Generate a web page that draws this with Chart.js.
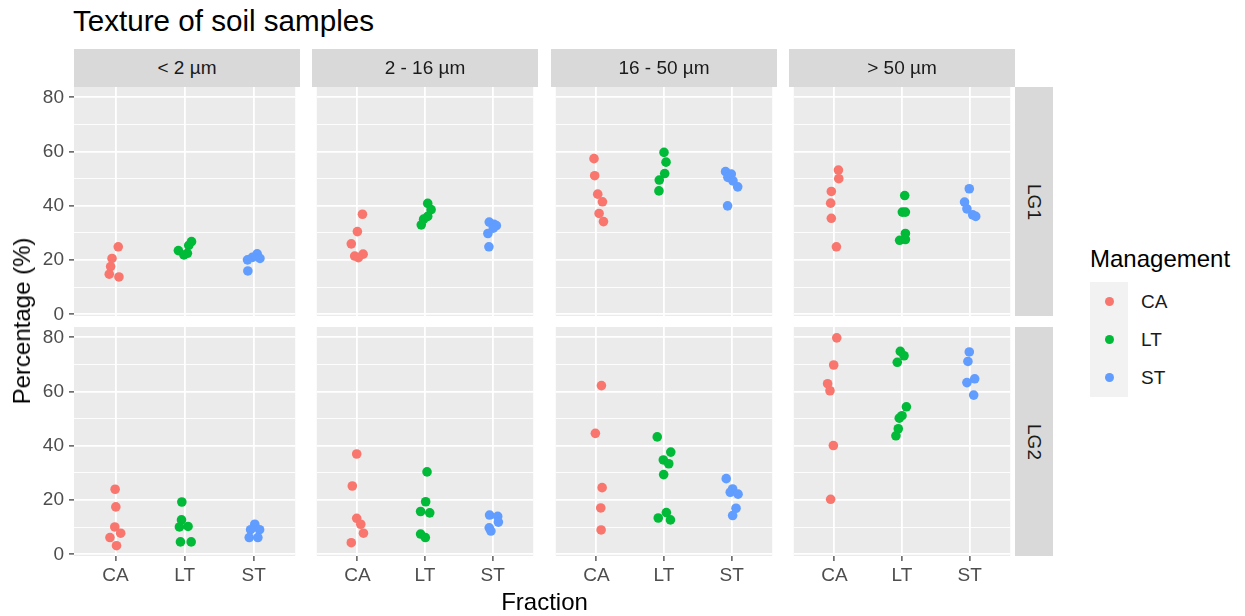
<!DOCTYPE html>
<html><head><meta charset="utf-8">
<script src="https://cdn.jsdelivr.net/npm/chart.js@4.4.1/dist/chart.umd.min.js"></script>
<style>
html,body{margin:0;padding:0;background:#fff;}
body{width:1245px;height:616px;position:relative;overflow:hidden;font-family:'Liberation Sans',Arial,sans-serif;}
canvas{position:absolute;}
.txt{position:absolute;line-height:1;white-space:nowrap;}
.strip{position:absolute;background:#D9D9D9;color:#1A1A1A;font-size:19px;display:flex;align-items:center;justify-content:center;z-index:2;}
</style></head><body>
<script>
// ---------------- data ----------------
const title = 'Texture of soil samples';
const xTitle = 'Fraction';
const yTitle = 'Percentage (%)';
const legendTitle = 'Management';
const fractions = ['< 2 µm', '2 - 16 µm', '16 - 50 µm', '> 50 µm'];
const sites = ['LG1', 'LG2'];
const managements = ['CA', 'LT', 'ST'];
const yTickLabels = [0, 20, 40, 60, 80];

// values per site & management; inner arrays follow `fractions`
const LG1_CA = [[24.9,20.6,17.6,14.8,13.8],[36.9,30.5,26.0,22.2,21.5,20.9],[57.4,51.1,44.3,41.5,37.2,34.2],[53.2,50.0,45.3,41.0,35.4,24.9]];
const LG1_LT = [[26.8,25.4,23.5,22.5,21.9],[40.9,38.6,36.1,35.1,33.0],[59.7,56.1,51.9,49.5,45.5],[43.8,37.7,37.7,29.8,27.6,27.3]];
const LG1_ST = [[22.3,21.0,20.6,20.1,16.0],[34.0,33.2,32.7,31.8,29.8,24.9],[52.6,51.7,50.5,49.2,47.0,40.0],[46.3,41.4,38.9,36.7,36.1]];
const LG2_CA = [[24.0,17.5,10.1,7.8,6.2,3.2],[37.0,25.2,13.3,11.1,7.8,4.3],[62.2,44.6,24.6,17.1,9.0],[79.8,69.8,62.9,60.3,40.1,20.3]];
const LG2_LT = [[19.3,12.7,10.1,10.3,4.6,4.6],[30.4,19.4,15.8,15.3,7.5,6.2],[43.3,37.7,34.8,33.4,29.4,15.4,13.4,12.7],[74.8,73.2,70.8,54.4,51.1,50.2,46.3,43.7]];
const LG2_ST = [[11.1,9.1,9.1,6.2,6.2],[14.5,14.0,11.9,9.8,8.6],[27.9,24.1,22.9,22.2,17.0,14.3],[74.6,71.1,64.7,63.3,58.7]];

// horizontal jitter of each point (category units)
const LG1_CA_jit = [[0.04,-0.05,-0.07,-0.09,0.05],[0.075,0,-0.09,0.085,-0.04,0.015],[-0.035,-0.025,0.02,0.09,0.04,0.105],[0.06,0.065,-0.045,-0.055,-0.045,0.03]];
const LG1_LT_jit = [[0.10,0.06,-0.09,0.04,-0.01],[0.04,0.09,0.04,-0.02,-0.055],[0,0.03,0.01,-0.07,-0.075],[0.04,0.005,0.05,0.05,0.05,-0.035]];
const LG1_ST_jit = [[0.05,-0.02,0.09,-0.09,-0.085],[-0.05,0.02,0.055,0.01,-0.07,-0.055],[-0.09,-0.005,-0.055,0.02,0.09,-0.06],[-0.005,-0.075,-0.04,0.045,0.09]];
const LG2_CA_jit = [[-0.005,0.005,-0.01,0.075,-0.08,0.015],[-0.01,-0.075,-0.01,0.05,0.09,-0.09],[0.075,-0.015,0.085,0.065,0.07],[0.035,-0.01,-0.1,-0.065,-0.015,-0.055]];
const LG2_LT_jit = [[-0.04,-0.045,-0.075,0.05,-0.06,0.095],[0.03,0.01,-0.065,0.07,-0.065,0.005],[-0.1,0.1,-0.01,0.07,-0.005,0.035,-0.085,0.095],[-0.025,0.03,-0.07,0.065,0,-0.04,-0.055,-0.09]];
const LG2_ST_jit = [[0.015,0.085,-0.045,-0.065,0.06],[-0.045,0.075,0.085,-0.05,-0.025],[-0.08,0.015,-0.02,0.095,0.065,0.015],[-0.005,-0.025,0.075,-0.04,0.06]];

// ---------------- styling / layout ----------------
const colors = ['#F8766D', '#00BA38', '#619CFF'];
const FONT = "'Liberation Sans', Arial, sans-serif";
Chart.defaults.font.family = FONT;
const colLeft = [74, 312, 551, 789];
const panelW = 226;
const rowTop = [87, 327];
const panelH = 229;
const yAxisW = 74;
const xAxisH = 35;
const PAD = 10;

const siteValues = { LG1: [LG1_CA, LG1_LT, LG1_ST], LG2: [LG2_CA, LG2_LT, LG2_ST] };
const siteJitter = { LG1: [LG1_CA_jit, LG1_LT_jit, LG1_ST_jit], LG2: [LG2_CA_jit, LG2_LT_jit, LG2_ST_jit] };

const yGridValues = [];
yTickLabels.forEach((v, i) => { yGridValues.push(v); if (i < yTickLabels.length - 1) yGridValues.push((v + yTickLabels[i + 1]) / 2); });
const isMajor = v => yTickLabels.includes(v);

const panelBg = {
  id: 'panelBg',
  beforeDraw(chart) {
    const a = chart.chartArea, c = chart.ctx;
    c.save(); c.fillStyle = '#EBEBEB'; c.fillRect(a.left, a.top, a.right - a.left, a.bottom - a.top); c.restore();
  }
};

function addDiv(cls, text, style) {
  const d = document.createElement('div');
  d.className = cls; d.textContent = text; Object.assign(d.style, style);
  document.body.appendChild(d); return d;
}

sites.forEach((site, r) => {
  fractions.forEach((frac, c) => {
    const hasY = c === 0, hasX = r === 1;
    const w = panelW + (hasY ? yAxisW : 0);
    const h = PAD + panelH + (hasX ? xAxisH : PAD);
    const cv = document.createElement('canvas');
    cv.width = w; cv.height = h;
    cv.style.left = (colLeft[c] - (hasY ? yAxisW : 0)) + 'px';
    cv.style.top = (rowTop[r] - PAD) + 'px';
    cv.style.width = w + 'px'; cv.style.height = h + 'px';
    document.body.appendChild(cv);

    const datasets = managements.map((m, k) => ({
      label: m,
      data: siteValues[site][k][c].map((v, i) => ({ x: k + 1 + siteJitter[site][k][c][i], y: v })),
      backgroundColor: colors[k],
      borderWidth: 0,
      pointRadius: 4.8,
      pointHoverRadius: 4.8
    }));

    new Chart(cv.getContext('2d'), {
      type: 'scatter',
      data: { datasets },
      plugins: [panelBg],
      options: {
        responsive: false, animation: false, devicePixelRatio: 1, events: [],
        layout: { padding: { top: PAD, bottom: hasX ? 0 : PAD, left: 0, right: 0 } },
        plugins: { legend: { display: false }, tooltip: { enabled: false }, title: { display: false } },
        scales: {
          x: {
            type: 'linear', min: 0.4, max: 3.6,
            afterBuildTicks: s => { s.ticks = managements.map((_, i) => ({ value: i + 1 })); },
            afterFit: s => { s.height = hasX ? xAxisH : 0; s.paddingLeft = 0; s.paddingRight = 0; },
            border: { display: false },
            grid: { color: '#FFFFFF', lineWidth: 1.8, drawTicks: hasX, tickLength: 5, tickColor: '#333333', tickWidth: 1.2 },
            ticks: { display: hasX, autoSkip: false, maxRotation: 0, padding: 3, color: '#4D4D4D', font: { size: 19 },
                     callback: v => managements[Math.round(v) - 1] }
          },
          y: {
            type: 'linear', min: -0.6, max: 83.8,
            afterBuildTicks: s => { s.ticks = yGridValues.map(v => ({ value: v })); },
            afterFit: s => { s.width = hasY ? yAxisW : 0; s.paddingTop = 0; s.paddingBottom = 0; },
            border: { display: false },
            grid: {
              color: '#FFFFFF',
              lineWidth: ctx => (ctx.tick && isMajor(ctx.tick.value)) ? 1.8 : 0.9,
              drawTicks: hasY, tickLength: 5, tickWidth: 1.2,
              tickColor: ctx => (ctx.tick && isMajor(ctx.tick.value)) ? '#333333' : 'rgba(0,0,0,0)'
            },
            ticks: { display: hasY, autoSkip: false, padding: 5, color: '#4D4D4D', font: { size: 19 },
                     callback: v => isMajor(v) ? String(v) : '' }
          }
        }
      }
    });
  });
});

// facet strips
fractions.forEach((f, c) => {
  addDiv('strip', f, { left: colLeft[c] + 'px', top: '49px', width: panelW + 'px', height: '38px' });
});
sites.forEach((s, r) => {
  const d = addDiv('strip', '', { left: '1015px', top: rowTop[r] + 'px', width: '38px', height: panelH + 'px' });
  const sp = document.createElement('span');
  sp.textContent = s; sp.style.display = 'inline-block'; sp.style.transform = 'rotate(90deg)'; sp.style.whiteSpace = 'nowrap';
  d.appendChild(sp);
});

// titles
addDiv('txt', title, { left: '73px', top: '6px', fontSize: '29.6px', color: '#000' });
addDiv('txt', xTitle, { left: colLeft[0] + 'px', width: (colLeft[3] + panelW - colLeft[0]) + 'px', textAlign: 'center', top: '590px', fontSize: '24px', color: '#000' });
addDiv('txt', yTitle, { left: '22px', top: '321px', fontSize: '24px', color: '#000', transform: 'translate(-50%,-50%) rotate(-90deg)' });

// legend
addDiv('txt', legendTitle, { left: '1090px', top: '247px', fontSize: '24px', color: '#000' });
addDiv('txt', '', { left: '1090px', top: '282px', width: '38px', height: '115px', background: '#F2F2F2' });
managements.forEach((m, k) => {
  const cy = 282 + 38.3 * k + 19;
  addDiv('txt', '', { left: (1109 - 4.5) + 'px', top: (cy - 4.5) + 'px', width: '9px', height: '9px', borderRadius: '50%', background: colors[k] });
  addDiv('txt', m, { left: '1141px', top: (cy - 9.5) + 'px', fontSize: '19px', color: '#1A1A1A' });
});
</script>
</body></html>
